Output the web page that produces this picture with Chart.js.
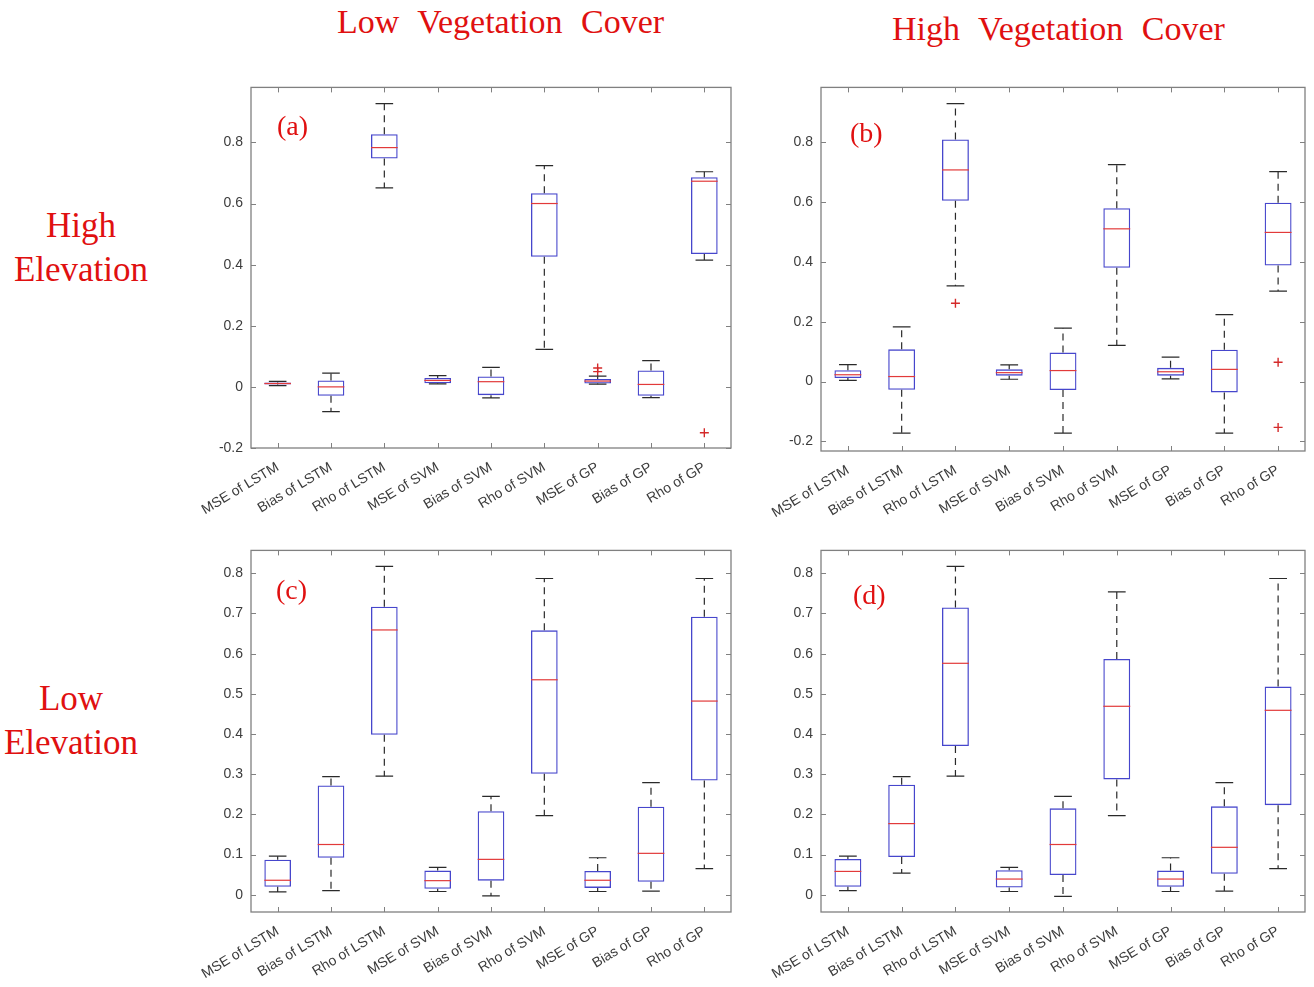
<!DOCTYPE html>
<html>
<head>
<meta charset="utf-8">
<script src="https://cdn.jsdelivr.net/npm/chart.js@4.4.1/dist/chart.umd.min.js"></script>
<style>
  html, body { margin: 0; padding: 0; background: #ffffff; }
  #wrap { position: relative; width: 1314px; height: 987px; overflow: hidden; background: #fff; }
  canvas { position: absolute; }
  .lbl { position: absolute; color: #e01010; font-family: "Liberation Serif", "Times New Roman", serif; white-space: nowrap; line-height: 1; }
  .title { font-size: 34px; word-spacing: 10px; }
  .row { font-size: 35px; text-align: center; width: 170px; }
  .tag { font-size: 28px; }
</style>
</head>
<body>
<div id="wrap">
  <div class="lbl title" style="left:337px; top:5px;">Low Vegetation Cover</div>
  <div class="lbl title" style="left:892px; top:12px;">High Vegetation Cover</div>
  <div class="lbl row" style="left:-4px; top:208px;">High</div>
  <div class="lbl row" style="left:-4px; top:252px;">Elevation</div>
  <div class="lbl row" style="left:-14px; top:681px;">Low</div>
  <div class="lbl row" style="left:-14px; top:725px;">Elevation</div>

  <canvas id="cA" width="560" height="469" style="left:180px; top:71px;"></canvas>
  <canvas id="cB" width="564" height="469" style="left:750px; top:71px;"></canvas>
  <canvas id="cC" width="560" height="453" style="left:180px; top:534px;"></canvas>
  <canvas id="cD" width="564" height="453" style="left:750px; top:534px;"></canvas>

  <div class="lbl tag" style="left:277px; top:112px;">(a)</div>
  <div class="lbl tag" style="left:850px; top:119px;">(b)</div>
  <div class="lbl tag" style="left:276px; top:576px;">(c)</div>
  <div class="lbl tag" style="left:853px; top:581px;">(d)</div>
</div>
<script>
const categories = ['MSE of LSTM', 'Bias of LSTM', 'Rho of LSTM', 'MSE of SVM', 'Bias of SVM',
                    'Rho of SVM', 'MSE of GP', 'Bias of GP', 'Rho of GP'];

// (a) high elevation, low vegetation cover
const aLow  = [0.004, -0.081, 0.651, 0.010, -0.036, 0.123, 0.009, -0.035, 0.415];
const aQ1   = [0.008, -0.029, 0.747, 0.012, -0.027, 0.426, 0.011, -0.029, 0.435];
const aMed  = [0.011,  0.000, 0.783, 0.021,  0.017, 0.600, 0.019,  0.008, 0.673];
const aQ3   = [0.014,  0.021, 0.827, 0.029,  0.034, 0.634, 0.026,  0.054, 0.686];
const aHigh = [0.018,  0.045, 0.927, 0.037,  0.064, 0.724, 0.035,  0.086, 0.704];
const aOut  = [[6, 0.062], [6, 0.050], [8, -0.150]];

// (b) high elevation, high vegetation cover
const bLow  = [0.004, -0.172, 0.320, 0.008, -0.172, 0.121, 0.009, -0.172, 0.303];
const bQ1   = [0.012, -0.027, 0.605, 0.020, -0.028, 0.381, 0.020, -0.036, 0.388];
const bMed  = [0.023,  0.017, 0.708, 0.030,  0.037, 0.511, 0.033,  0.041, 0.499];
const bQ3   = [0.038,  0.108, 0.810, 0.041,  0.097, 0.580, 0.046,  0.107, 0.598];
const bHigh = [0.057,  0.183, 0.930, 0.056,  0.179, 0.726, 0.082,  0.224, 0.702];
const bOut  = [[2, 0.262], [8, 0.065], [8, -0.153]];

// (c) low elevation, low vegetation cover
const cLow  = [0.007, 0.010, 0.295, 0.008, -0.003, 0.197, 0.008, 0.009, 0.065];
const cQ1   = [0.020, 0.092, 0.398, 0.015,  0.035, 0.301, 0.017, 0.032, 0.284];
const cMed  = [0.036, 0.125, 0.659, 0.035,  0.088, 0.535, 0.036, 0.103, 0.482];
const cQ3   = [0.087, 0.272, 0.717, 0.060,  0.208, 0.658, 0.059, 0.219, 0.692];
const cHigh = [0.096, 0.294, 0.817, 0.068,  0.245, 0.787, 0.092, 0.279, 0.787];
const cOut  = [];

// (d) low elevation, high vegetation cover
const dLow  = [0.010, 0.054, 0.295, 0.008, -0.004, 0.197, 0.008, 0.009, 0.065];
const dQ1   = [0.020, 0.094, 0.370, 0.018,  0.049, 0.287, 0.020, 0.052, 0.223];
const dMed  = [0.058, 0.177, 0.576, 0.039,  0.125, 0.469, 0.039, 0.118, 0.459];
const dQ3   = [0.089, 0.274, 0.715, 0.061,  0.215, 0.587, 0.060, 0.220, 0.518];
const dHigh = [0.096, 0.294, 0.817, 0.068,  0.245, 0.754, 0.092, 0.279, 0.787];
const dOut  = [];

// y-axis limits and tick values per panel
const aLimits = [-0.2, 0.98];
const bLimits = [-0.232, 0.984];
const cLimits = [-0.043, 0.857];
const dLimits = [-0.043, 0.857];
const upperTicks = [-0.2, 0, 0.2, 0.4, 0.6, 0.8];
const lowerTicks = [0, 0.1, 0.2, 0.3, 0.4, 0.5, 0.6, 0.7, 0.8];

const BOX_BLUE = '#4646cc';
const MED_RED = '#e23a3a';
const FRAME = '#808080';
const TEXT = '#3c3c3c';

// whiskers, caps and median lines, placed with the chart's own scales
const boxExtras = {
  id: 'boxExtras',
  afterDatasetsDraw(chart, args, opts) {
    const ctx = chart.ctx, x = chart.scales.x, y = chart.scales.y;
    const bars = chart.getDatasetMeta(0).data;
    ctx.save();
    opts.low.forEach((lo, i) => {
      const cx = x.getPixelForValue(i);
      const half = bars[i].width / 2;
      const cap = half * 0.66;
      const yLo = y.getPixelForValue(lo), yHi = y.getPixelForValue(opts.high[i]);
      const yQ1 = y.getPixelForValue(opts.q1[i]), yQ3 = y.getPixelForValue(opts.q3[i]);
      ctx.strokeStyle = '#2a2a2a';
      ctx.lineWidth = 1.2;
      ctx.setLineDash([7, 5]);
      ctx.beginPath();
      ctx.moveTo(cx, yQ3); ctx.lineTo(cx, yHi);
      ctx.moveTo(cx, yQ1); ctx.lineTo(cx, yLo);
      ctx.stroke();
      ctx.setLineDash([]);
      ctx.beginPath();
      ctx.moveTo(cx - cap, yHi); ctx.lineTo(cx + cap, yHi);
      ctx.moveTo(cx - cap, yLo); ctx.lineTo(cx + cap, yLo);
      ctx.stroke();
      const yM = y.getPixelForValue(opts.med[i]);
      ctx.strokeStyle = MED_RED;
      ctx.lineWidth = 1.2;
      ctx.beginPath();
      ctx.moveTo(cx - half, yM); ctx.lineTo(cx + half, yM);
      ctx.stroke();
    });
    ctx.restore();
  }
};

// boxed axes with inward tick marks on all four sides
const boxedAxes = {
  id: 'boxedAxes',
  afterDraw(chart) {
    const ctx = chart.ctx, a = chart.chartArea, x = chart.scales.x, y = chart.scales.y;
    const t = 5;
    ctx.save();
    ctx.strokeStyle = FRAME;
    ctx.lineWidth = 1.3;
    ctx.strokeRect(a.left, a.top, a.right - a.left, a.bottom - a.top);
    ctx.lineWidth = 1;
    ctx.beginPath();
    y.ticks.forEach(tk => {
      const py = Math.round(y.getPixelForValue(tk.value)) + 0.5;
      ctx.moveTo(a.left, py); ctx.lineTo(a.left + t, py);
      ctx.moveTo(a.right, py); ctx.lineTo(a.right - t, py);
    });
    categories.forEach((c, i) => {
      const px = Math.round(x.getPixelForValue(i)) + 0.5;
      ctx.moveTo(px, a.bottom); ctx.lineTo(px, a.bottom - t);
      ctx.moveTo(px, a.top); ctx.lineTo(px, a.top + t);
    });
    ctx.stroke();
    ctx.restore();
  }
};

function makePanel(id, low, q1, med, q3, high, outliers, limits, tickValues, xAxisH) {
  const fmt = v => String(Number(v.toFixed(2)));
  new Chart(document.getElementById(id), {
    type: 'bar',
    data: {
      labels: categories,
      datasets: [
        {
          data: q1.map((v, i) => [v, q3[i]]),
          backgroundColor: 'rgba(255,255,255,0)',
          borderColor: BOX_BLUE,
          borderWidth: 1.3,
          borderSkipped: false,
          barPercentage: 0.5,
          categoryPercentage: 1.0
        },
        {
          type: 'line',
          data: outliers.map(o => ({ x: categories[o[0]], y: o[1] })),
          showLine: false,
          pointStyle: 'cross',
          pointRadius: 4.5,
          pointBorderWidth: 1.4,
          borderColor: '#d42a2a',
          backgroundColor: '#d42a2a'
        }
      ]
    },
    options: {
      responsive: false,
      animation: false,
      devicePixelRatio: 1,
      layout: { padding: { top: 7, right: 9, left: 0, bottom: 0 } },
      plugins: {
        legend: { display: false },
        tooltip: { enabled: false },
        boxExtras: { low, q1, med, q3, high }
      },
      scales: {
        x: {
          grid: { display: false, drawTicks: false },
          border: { display: false },
          ticks: {
            autoSkip: false, minRotation: 31, maxRotation: 31, padding: 11,
            color: TEXT, font: { family: 'Liberation Sans, Arial, sans-serif', size: 14 }
          },
          afterFit: s => { s.height = xAxisH; }
        },
        y: {
          min: limits[0], max: limits[1],
          grid: { display: false, drawTicks: false },
          border: { display: false },
          ticks: {
            padding: 8,
            color: TEXT, font: { family: 'Liberation Sans, Arial, sans-serif', size: 14 },
            callback: v => fmt(v)
          },
          afterBuildTicks: s => { s.ticks = tickValues.map(v => ({ value: v })); },
          afterFit: s => { s.width = 71; }
        }
      }
    },
    plugins: [boxExtras, boxedAxes]
  });
}

makePanel('cA', aLow, aQ1, aMed, aQ3, aHigh, aOut, aLimits, upperTicks, 92);
makePanel('cB', bLow, bQ1, bMed, bQ3, bHigh, bOut, bLimits, upperTicks, 89);
makePanel('cC', cLow, cQ1, cMed, cQ3, cHigh, cOut, cLimits, lowerTicks, 75);
makePanel('cD', dLow, dQ1, dMed, dQ3, dHigh, dOut, dLimits, lowerTicks, 75);
</script>
</body>
</html>
